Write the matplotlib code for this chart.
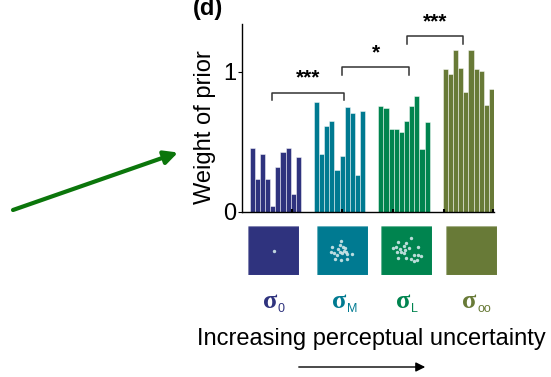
import matplotlib
matplotlib.use("Agg")
from matplotlib import pyplot as plt

plt.rcParams['font.family'] = ['Liberation Sans', 'DejaVu Sans']

# weight of prior, 10 subjects per condition
w_sigma0 = [0.453, 0.231, 0.41, 0.231, 0.039, 0.317, 0.426, 0.455, 0.126, 0.393]
w_sigmaM = [0.786, 0.41, 0.614, 0.648, 0.298, 0.396, 0.746, 0.703, 0.262, 0.717]
w_sigmaL = [0.757, 0.743, 0.588, 0.588, 0.569, 0.648, 0.753, 0.829, 0.448, 0.638]
w_sigmaoo = [1.017, 0.983, 1.153, 1.024, 0.855, 1.157, 1.017, 1.005, 0.76, 0.879]
groups = [w_sigma0, w_sigmaM, w_sigmaL, w_sigmaoo]
subscripts = ['0', 'M', 'L', 'oo']
colors = ['#2f337e', '#007a91', '#00844f', '#687a37']

# significance brackets: (x0, x1, y, stars)
brackets = [(4.4, 18.3, 0.85, '***'), (18.0, 31.0, 1.03, '*'), (30.6, 41.5, 1.255, '***')]

# stimulus dots (offsets from square centre, image px)
dots_M = [(-5, -29), (-31, -10), (-36, 3), (-25, 8), (-13, -4), (-8, 3), (2, -12), (8, -7),
          (-3, 8), (-18, 13), (14, 10), (27, 10), (-23, 26), (-5, 28), (14, 25), (-8, -17),
          (3, 1), (10, 3)]
dots_L = [(-25, -25), (-1, -24), (14, -37), (-30, -12), (-38, -7), (-8, -14), (7, -7), (34, -12),
          (-28, 3), (-15, 3), (-3, -2), (-8, 8), (22, 13), (35, 13), (44, 16), (-23, 21),
          (-1, 21), (15, 26), (24, 30), (32, 28), (-18, -4)]
dots_0 = [(0, 0)]
stim_dots = [dots_0, dots_M, dots_L, []]

W, H = 551, 377
fig = plt.figure(figsize=(W / 100, H / 100), dpi=100)

ax = fig.add_axes([241.8 / W, (H - 211.7) / H, (494.1 - 241.8) / W, (211.7 - 24) / H])
gap = 12.5
for g, vals in enumerate(groups):
    xs = [g * gap + i for i in range(len(vals))]
    ax.bar(xs, vals, width=1.0, align='edge', color=colors[g],
           edgecolor=(1, 1, 1, 0.55), linewidth=0.6)

for x0, x1, y, s in brackets:
    ax.plot([x0, x0, x1, x1], [y - 0.055, y, y, y - 0.055], color='#333333', lw=1.1,
            clip_on=False)
    ax.text((x0 + x1) / 2, y + 0.035, s, ha='center', va='bottom', fontsize=15,
            fontweight='bold')

ax.set_xlim(-1.5, 47.5)
ax.set_ylim(0, 1.34)
ax.spines['top'].set_visible(False)
ax.spines['right'].set_visible(False)
ax.spines['left'].set_linewidth(1.0)
ax.spines['bottom'].set_linewidth(1.0)
ax.set_yticks([0, 1])
ax.set_yticklabels(['0', '1'], fontsize=17)
ax.tick_params(axis='y', direction='out', length=3, pad=1)
ax.set_xticks([8.3, 18.0, 27.9, 37.8, 47.3])
ax.set_xticklabels([])
ax.tick_params(axis='x', direction='in', length=2, width=1.5)

fig.text(205.5 / W, (H - 127.5) / H, 'Weight of prior', rotation=90, ha='center',
         va='center', fontsize=17)
fig.text(193 / W, (H - 15) / H, '(d)', fontsize=17, fontweight='bold', va='baseline')

# stimulus squares
sq_left = [248.3, 317.3, 380.7, 446.0]
for g, xl in enumerate(sq_left):
    sa = fig.add_axes([xl / W, (H - 275.3) / H, 51 / W, 49.3 / H])
    sa.set_facecolor(colors[g])
    sa.set_xlim(-76, 76)
    sa.set_ylim(74, -74)
    sa.set_xticks([])
    sa.set_yticks([])
    for sp in sa.spines.values():
        sp.set_edgecolor((1, 1, 1, 0.4))
        sp.set_linewidth(0.8)
    if stim_dots[g]:
        sa.scatter([d[0] for d in stim_dots[g]], [d[1] for d in stim_dots[g]], s=6,
                   color='#cfe6e8', alpha=0.9, linewidths=0)

# sigma labels: sigma glyph right edge / subscript left edge
sig_right = [277, 346, 410.5, 476.5]
for g, sx in enumerate(sig_right):
    fig.text(sx / W, (H - 308) / H, '\u03c3', color=colors[g], fontsize=19,
             family='Liberation Serif', fontweight='bold', ha='right', va='baseline')
    fig.text((sx + 0.5) / W, (H - 312.5) / H, subscripts[g], color=colors[g], fontsize=9,
             ha='left', va='baseline')

fig.text(371 / W, (H - 345) / H, 'Increasing perceptual uncertainty', ha='center',
         va='baseline', fontsize=17)

ax.annotate('', xy=(428, H - 367), xytext=(296, H - 367), xycoords='figure pixels',
            textcoords='figure pixels',
            arrowprops=dict(arrowstyle='-|>', lw=1.0, color='black', mutation_scale=14))
ax.annotate('', xy=(178, H - 152.5), xytext=(13, H - 210), xycoords='figure pixels',
            textcoords='figure pixels',
            arrowprops=dict(arrowstyle='-|>', lw=3.0, color='#0b760b', mutation_scale=20,
                            shrinkA=0, shrinkB=0))

plt.savefig('out.png', dpi=100)
